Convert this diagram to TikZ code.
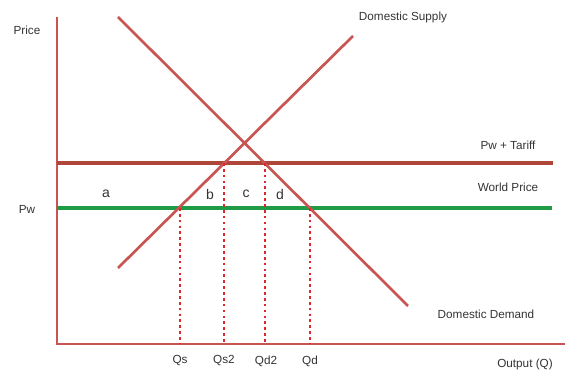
\documentclass[tikz,border=0pt]{standalone}
\usepackage{fontspec}
\setmainfont{Liberation Sans}
\definecolor{curvered}{HTML}{C85552}
\definecolor{tariffred}{HTML}{B0463A}
\definecolor{worldgreen}{HTML}{1F9A45}
\definecolor{dropred}{HTML}{E0262B}
\tikzset{
  curve/.style={curvered, line width=2pt},
  drop/.style={dropred, line width=2.2pt, dash pattern=on 2pt off 2.4pt},
  lbl/.style={font=\fontsize{8.8}{10}\selectfont, text=black!80, inner sep=0pt}
}
\begin{document}
\begin{tikzpicture}[x=0.75pt,y=-0.75pt]
\useasboundingbox (0,0) rectangle (569,374);
% axes
\coordinate (O) at (57,344);
\coordinate (ytop) at (57,17);
\coordinate (xend) at (565,344);
\draw[curve] (ytop) -- (O) -- (xend);
\node[lbl] (price) at (27,30) {Price};
\node[lbl] (output) at (525,364) {Output (Q)};
% price levels
\coordinate (tl) at (57,163);
\coordinate (tr) at (553,163);
\coordinate (wl) at (57,208);
\coordinate (wr) at (552,208);
\draw[tariffred, line width=2.4pt] (tl) -- (tr);
\draw[worldgreen, line width=2.4pt] (wl) -- (wr);
\node[lbl] (tariff) at (508,145) {Pw + Tariff};
\node[lbl] (world) at (508,187) {World Price};
\node[lbl] (pw) at (27,209) {Pw};
% demand and supply
\coordinate (d1) at (118,17);
\coordinate (d2) at (408,306);
\coordinate (s1) at (118,268);
\coordinate (s2) at (353,36);
\draw[curve] (d1) -- (d2);
\draw[curve] (s1) -- (s2);
\node[lbl] (supply) at (403,17) {Domestic Supply};
\node[lbl] (demand) at (486,314) {Domestic Demand};
% quantities
\coordinate (qs) at (180,208);
\coordinate (qs2) at (224,163);
\coordinate (qd2) at (265,163);
\coordinate (qd) at (310,208);
\foreach \q in {qs,qs2,qd2,qd}
  \draw[drop] (\q) -- (\q |- O);
\node[lbl] (lqs) at (180,361) {Qs};
\node[lbl] (lqs2) at (224,361) {Qs2};
\node[lbl] (lqd2) at (266,361) {Qd2};
\node[lbl] (lqd) at (310,361) {Qd};
% areas
\node[lbl, font=\fontsize{10.5}{12}\selectfont] (a) at (106,194) {a};
\node[lbl, font=\fontsize{10.5}{12}\selectfont] (b) at (210,194) {b};
\node[lbl, font=\fontsize{10.5}{12}\selectfont] (c) at (246,194) {c};
\node[lbl, font=\fontsize{10.5}{12}\selectfont] (d) at (280,194) {d};
\end{tikzpicture}
\end{document}
